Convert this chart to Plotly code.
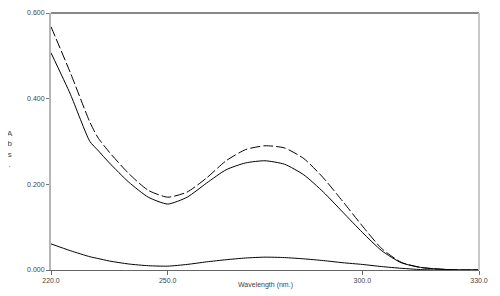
import plotly.graph_objects as go

wavelength = [220, 225, 230, 232, 235, 240, 245, 250, 255, 260, 265, 270, 275, 280, 285, 290, 295, 300, 305, 310, 315, 320, 325, 330]
sample_dashed = [0.568, 0.46, 0.345, 0.31, 0.275, 0.225, 0.186, 0.170, 0.182, 0.215, 0.255, 0.281, 0.290, 0.285, 0.260, 0.215, 0.160, 0.103, 0.050, 0.018, 0.006, 0.002, 0.0, 0.0]
sample_solid = [0.507, 0.41, 0.30, 0.28, 0.25, 0.205, 0.170, 0.154, 0.170, 0.203, 0.234, 0.250, 0.255, 0.247, 0.222, 0.182, 0.135, 0.088, 0.045, 0.017, 0.006, 0.002, 0.0, 0.0]
blank_solid = [0.061, 0.045, 0.031, 0.027, 0.021, 0.014, 0.010, 0.009, 0.013, 0.019, 0.024, 0.028, 0.030, 0.029, 0.026, 0.022, 0.017, 0.013, 0.008, 0.004, 0.001, 0.0, 0.0, 0.0]

x_ticks = [220, 250, 300, 330]
x_labels = ["220.0", "250.0", "300.0", "330.0"]
y_ticks = [0.0, 0.2, 0.4, 0.6]
y_labels = ["0.000", "0.200", "0.400", "0.600"]

fig = go.Figure()
fig.add_trace(go.Scatter(x=wavelength, y=sample_dashed, mode="lines", line=dict(color="black", width=1, dash="10px,3px", shape="spline", smoothing=0.6)))
fig.add_trace(go.Scatter(x=wavelength, y=sample_solid, mode="lines", line=dict(color="black", width=1, shape="spline", smoothing=0.6)))
fig.add_trace(go.Scatter(x=wavelength, y=blank_solid, mode="lines", line=dict(color="black", width=1, shape="spline", smoothing=0.6)))

font = dict(family="Liberation Sans, Arial, sans-serif", size=7, color="#444")
fig.update_layout(
    width=492, height=288,
    margin=dict(l=43, r=21, t=5, b=26),
    paper_bgcolor="white", plot_bgcolor="white",
    showlegend=False,
    font=font,
    xaxis=dict(range=[220, 330], tickvals=x_ticks, ticktext=x_labels, showgrid=False, zeroline=False,
               showline=True, linecolor="#666", linewidth=1, ticks="outside", ticklen=4, tickcolor="#666",
               tickfont=font, automargin=False),
    yaxis=dict(range=[0, 0.6], tickvals=y_ticks, ticktext=y_labels, showgrid=False, zeroline=False,
               showline=True, linecolor="#b5b5b5", linewidth=2, ticks="outside", ticklen=3, tickcolor="#777",
               tickfont=font, automargin=False),
    shapes=[
        dict(type="line", xref="paper", yref="paper", x0=0, x1=1, y0=1, y1=1, line=dict(color="#888", width=2)),
        dict(type="line", xref="paper", yref="paper", x0=1, x1=1, y0=0, y1=1, line=dict(color="#c8c8c8", width=2)),
    ],
    annotations=[
        dict(text="Wavelength (nm.)", xref="paper", yref="paper", x=0.5, y=-0.058, yanchor="middle", showarrow=False,
             font=dict(family="Liberation Sans, Arial, sans-serif", size=7, color="#444")),
        dict(text="A<br>b<br>s<br>.", xref="paper", yref="paper", x=-0.096, xanchor="center", y=0.47, showarrow=False,
             font=dict(family="Liberation Sans, Arial, sans-serif", size=8, color="#444")),
    ],
)
fig.write_html("out.html")
